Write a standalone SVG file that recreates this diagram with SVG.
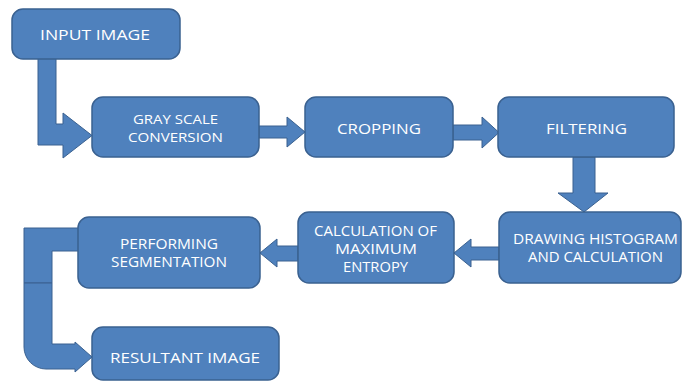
<svg xmlns="http://www.w3.org/2000/svg" width="685" height="383" viewBox="0 0 685 383">
<style>
.box{fill:#4F81BD;stroke:#3A6190;stroke-width:1.5}
.arr{fill:#4F81BD;stroke:#3A6190;stroke-width:1;stroke-linejoin:miter}
text{font-family:"Open Sans","Liberation Sans",sans-serif;fill:#FFFFFF;font-size:14px;text-anchor:middle}
.s{font-size:13px}
</style>
<rect width="685" height="383" fill="#FFFFFF"/>
<g id="connectors">
<polygon class="arr" points="38,58 56,58 56,124 63,124 63,113 92,135.5 63,158 63,145 38,145"/>
<polygon class="arr" points="259,126 287,126 287,117 305,132 287,147 287,138 259,138"/>
<polygon class="arr" points="453,125 482,125 482,117 499,132.5 482,148 482,140 453,140"/>
<polygon class="arr" points="573,157 595,157 595,193 608,193 584,212 558,193 573,193"/>
<polygon class="arr" points="499,247 471,247 471,239 454,253 471,267 471,260 499,260"/>
<polygon class="arr" points="298,246 277,246 277,239 260,253 277,267 277,261 298,261"/>
<polygon class="arr" points="79,228 24,228 24,283 52,283 52,251 79,251"/>
<path class="arr" d="M52,283 L52,344 L75,344 L75,342 L92,357 L75,372 L75,369 L46,369 A22,22 0 0 1 24,347 L24,283 Z"/>
</g>
<g id="input-image">
<rect class="box" x="12" y="9" width="168" height="50" rx="11"/>
<text x="95" y="39.5" textLength="110" lengthAdjust="spacingAndGlyphs">INPUT IMAGE</text>
</g>
<g id="gray-scale">
<rect class="box" x="92" y="97" width="167" height="60" rx="11"/>
<text class="s" x="175.5" y="123.5" textLength="85" lengthAdjust="spacingAndGlyphs">GRAY SCALE</text>
<text class="s" x="175.5" y="142" textLength="95" lengthAdjust="spacingAndGlyphs">CONVERSION</text>
</g>
<g id="cropping">
<rect class="box" x="305" y="97" width="148" height="60" rx="11"/>
<text x="379" y="133.5" textLength="84" lengthAdjust="spacingAndGlyphs">CROPPING</text>
</g>
<g id="filtering">
<rect class="box" x="498" y="97" width="176" height="60" rx="11"/>
<text x="586.5" y="133.5" textLength="81" lengthAdjust="spacingAndGlyphs">FILTERING</text>
</g>
<g id="drawing-histogram">
<rect class="box" x="499" y="212" width="182" height="71" rx="11"/>
<text x="595.5" y="244" textLength="165" lengthAdjust="spacingAndGlyphs">DRAWING HISTOGRAM</text>
<text x="595.5" y="262" textLength="135" lengthAdjust="spacingAndGlyphs">AND CALCULATION</text>
</g>
<g id="max-entropy">
<rect class="box" x="298" y="212" width="156" height="71" rx="11"/>
<text x="375.5" y="236" textLength="123" lengthAdjust="spacingAndGlyphs">CALCULATION OF</text>
<text x="376" y="253.5" textLength="82" lengthAdjust="spacingAndGlyphs">MAXIMUM</text>
<text x="375.5" y="272" textLength="65" lengthAdjust="spacingAndGlyphs">ENTROPY</text>
</g>
<g id="segmentation">
<rect class="box" x="78" y="217" width="182" height="71" rx="11"/>
<text x="169" y="249" textLength="98" lengthAdjust="spacingAndGlyphs">PERFORMING</text>
<text x="169" y="267" textLength="116" lengthAdjust="spacingAndGlyphs">SEGMENTATION</text>
</g>
<g id="resultant-image">
<rect class="box" x="92" y="327" width="187" height="53" rx="11"/>
<text x="185" y="363" textLength="150" lengthAdjust="spacingAndGlyphs">RESULTANT IMAGE</text>
</g>
</svg>
